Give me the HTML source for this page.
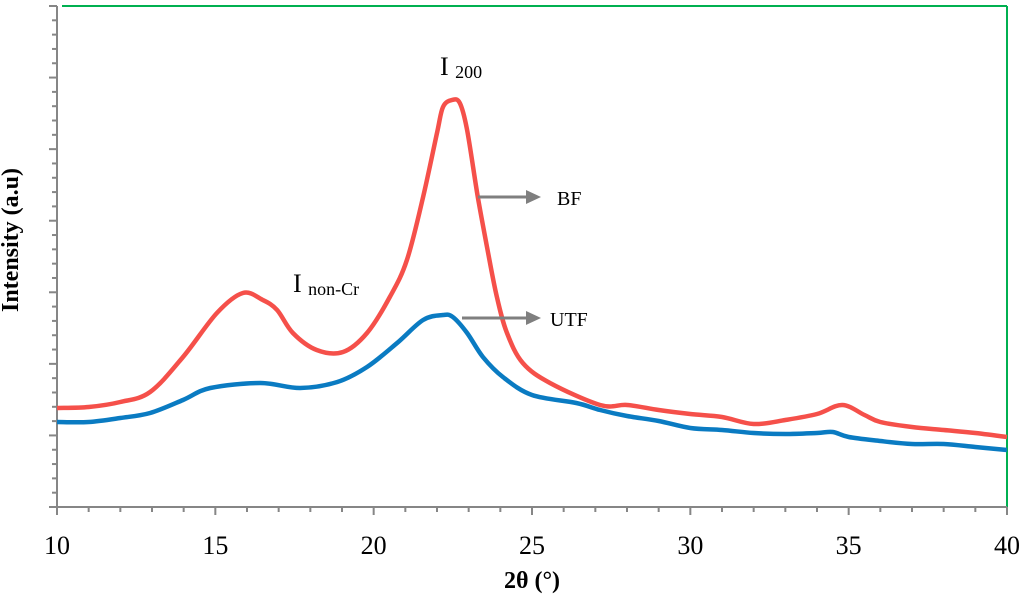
<!DOCTYPE html>
<html><head><meta charset="utf-8"><style>
body{margin:0;background:#fff}
svg{display:block;font-family:"Liberation Serif",serif}
</style></head><body>
<svg id="c" width="1024" height="602">
<g id="axes"></g>
<g id="series"></g>
<text x="18" y="240" transform="rotate(-90 18 240)" text-anchor="middle" font-size="24" font-weight="bold">Intensity (a.u)</text>
<text x="532" y="588" text-anchor="middle" font-size="24" font-weight="bold">2θ (°)</text>
<text x="440" y="75" font-size="26">I <tspan font-size="18" dy="3">200</tspan></text>
<text x="293" y="292" font-size="26">I <tspan font-size="18" dy="3">non-Cr</tspan></text>
<g><line x1="478" y1="197" x2="528" y2="197" stroke="#7f7f7f" stroke-width="3"/><polygon points="526,190 541,197 526,204" fill="#7f7f7f"/></g>
<text x="557" y="205" font-size="20">BF</text>
<g><line x1="462" y1="318" x2="528" y2="318" stroke="#7f7f7f" stroke-width="3"/><polygon points="526,311 541,318 526,325" fill="#7f7f7f"/></g>
<text x="550" y="326" font-size="20">UTF</text>
</svg>
<script>
const xs = [10,11,12,12.94,13.98,15.05,15.87,16.5,16.95,17.45,18.2,19.03,19.79,20.51,21.05,21.56,22.0,22.19,22.47,22.72,22.95,23.29,23.58,23.89,24.21,24.71,25.57,27.15,28,29,30,31,32,33,34,34.8,35.5,36,37,38,39,40];
const bf = [99,100,105,115,150,194,214,207,197,174,157,155,174,210,247,310,374,400,407,404,377,310,260,210,174,144,124,102,102,97,93,90,83,87,93,102,92,85,80,77,74,70];
const xsU = [10,11,12,12.94,13.98,14.84,16.42,17.68,18.85,19.79,20.74,21.56,22.19,22.5,22.95,23.45,24.08,25.0,26.4,27.15,28,29,30,31,32,33,34,34.5,35,36,37,38,39,40];
const utf = [85,85,89,94,107,119,124,119,125,140,164,187,192,190,174,150,130,112,104,97,91,86,79,77,74,73,74,75,70,66,63,63,60,57];
const xTicks = [10,15,20,25,30,35,40];
const X0=57,X1=1007,Y0=507,Y1=6;
const sx=v=>X0+(v-10)/30*(X1-X0);
const sy=v=>Y0-v*(Y0-Y1)/501;
const NS="http://www.w3.org/2000/svg";
function mk(t,a,p){const e=document.createElementNS(NS,t);for(const k in a)e.setAttribute(k,a[k]);p.appendChild(e);return e;}
const ax=document.getElementById('axes');
let e=mk('line',{x1:62,y1:Y1,x2:X1,y2:Y1,stroke:'#00b050','stroke-width':2},ax);


e=mk('line',{x1:X1,y1:Y1,x2:X1,y2:Y0,stroke:'#00b050','stroke-width':2},ax);


e=mk('line',{x1:X0,y1:Y1,x2:X0,y2:Y0,stroke:'#868686','stroke-width':2},ax);


e=mk('line',{x1:X0,y1:Y0,x2:X1,y2:Y0,stroke:'#868686','stroke-width':2},ax);


for(let i=0;i<=35;i++){const y=Y0-i*(Y0-Y1)/35;const maj=i%5==0;
 e=mk('line',{x1:maj?X0-8:X0-5,y1:y,x2:X0,y2:y,stroke:'#868686','stroke-width':2},ax);
 
 }
for(let v=10;v<=40;v++){const x=sx(v);const maj=v%5==0;
 e=mk('line',{x1:x,y1:Y0,x2:x,y2:Y0+(maj?8:5),stroke:'#868686','stroke-width':2},ax);
 
 }
xTicks.forEach(v=>{const t=mk('text',{x:sx(v),y:554,'text-anchor':'middle','font-size':26},ax);t.textContent=v;
 
 });
const sg=document.getElementById('series');
function line(xv,yv,col,name){
 const P=xv.map((x,i)=>[sx(x),sy(yv[i])]);
 let d='M'+P[0][0].toFixed(1)+','+P[0][1].toFixed(1);
 for(let i=0;i<P.length-1;i++){const p0=P[Math.max(0,i-1)],p1=P[i],p2=P[i+1],p3=P[Math.min(P.length-1,i+2)];
  const c1=[p1[0]+(p2[0]-p0[0])/6,p1[1]+(p2[1]-p0[1])/6],c2=[p2[0]-(p3[0]-p1[0])/6,p2[1]-(p3[1]-p1[1])/6];
  d+='C'+c1.map(v=>v.toFixed(1))+' '+c2.map(v=>v.toFixed(1))+' '+p2.map(v=>v.toFixed(1));}
 const p=mk('path',{d:d,fill:'none',stroke:col,'stroke-width':4.5,'stroke-linejoin':'round'},sg);
 
 }
line(xsU,utf,'#0a7bc2','utf-line');
line(xs,bf,'#f5504a','bf-line');
</script>
</body></html>
